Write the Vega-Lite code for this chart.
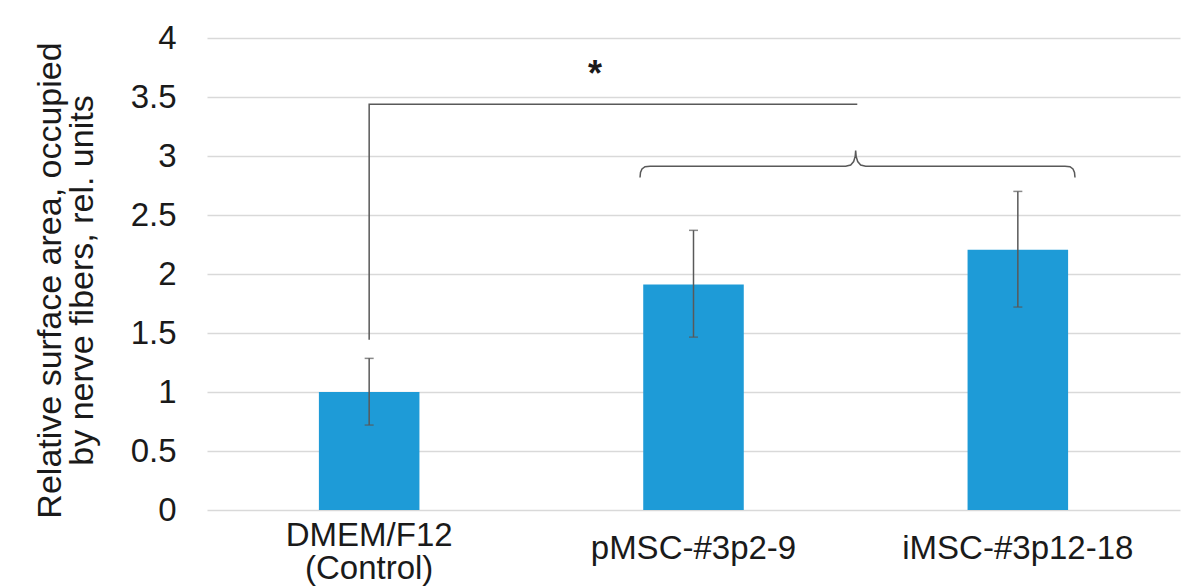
{
  "$schema": "https://vega.github.io/schema/vega-lite/v6.json",
  "autosize": "none",
  "width": 973,
  "height": 472,
  "padding": {"left": 207, "top": 38, "right": 16, "bottom": 77},
  "background": "white",
  "config": {
    "view": {"stroke": null},
    "font": "Liberation Sans",
    "axis": {"labelFont": "Liberation Sans", "titleFont": "Liberation Sans", "labelColor": "#1a1a1a", "titleColor": "#1a1a1a", "titleFontWeight": "normal"}
  },
  "datasets": {
    "bars": [
      {"group": "DMEM/F12\n(Control)", "mean": 1.0, "lo": 0.72, "hi": 1.285},
      {"group": "pMSC-#3p2-9", "mean": 1.91, "lo": 1.465, "hi": 2.37},
      {"group": "iMSC-#3p12-18", "mean": 2.205, "lo": 1.72, "hi": 2.70}
    ],
    "bracket": [
      {"i": 0, "u": 0.5, "v": 1.442},
      {"i": 1, "u": 0.5, "v": 3.439},
      {"i": 2, "u": 2.005, "v": 3.439}
    ],
    "brace": [
      {"i": 0, "u": 1.3351, "v": 2.818},
      {"i": 1, "u": 1.3366, "v": 2.860},
      {"i": 2, "u": 1.3412, "v": 2.890},
      {"i": 3, "u": 1.3505, "v": 2.909},
      {"i": 4, "u": 1.3659, "v": 2.913},
      {"i": 5, "u": 1.9692, "v": 2.913},
      {"i": 6, "u": 1.9846, "v": 2.924},
      {"i": 7, "u": 1.9938, "v": 2.953},
      {"i": 8, "u": 1.9985, "v": 2.996},
      {"i": 9, "u": 2.0, "v": 3.047},
      {"i": 10, "u": 2.0015, "v": 2.996},
      {"i": 11, "u": 2.0062, "v": 2.953},
      {"i": 12, "u": 2.0154, "v": 2.924},
      {"i": 13, "u": 2.0308, "v": 2.913},
      {"i": 14, "u": 2.6454, "v": 2.913},
      {"i": 15, "u": 2.6608, "v": 2.909},
      {"i": 16, "u": 2.6700, "v": 2.890},
      {"i": 17, "u": 2.6747, "v": 2.860},
      {"i": 18, "u": 2.6762, "v": 2.818}
    ],
    "star": [
      {"u": 1.196, "v": 3.595, "t": "*"}
    ]
  },
  "resolve": {"scale": {"x": "independent"}, "axis": {"x": "independent"}},
  "layer": [
    {
      "data": {"name": "bars"},
      "mark": {"type": "bar", "color": "#1E9BD7"},
      "encoding": {
        "x": {
          "field": "group", "type": "nominal", "sort": null,
          "scale": {"paddingInner": 0.69, "paddingOuter": 0.345},
          "axis": {
            "title": null, "ticks": false, "domain": false, "grid": false,
            "labelAngle": 0, "labelFontSize": 33, "labelLimit": 0,
            "labelPadding": {"condition": {"test": "datum.value == 'pMSC-#3p2-9' || datum.value == 'iMSC-#3p12-18'", "value": 48}, "value": 35},
            "labelBaseline": "alphabetic", "labelLineHeight": 33,
            "labelExpr": "split(datum.label, '\\n')"
          }
        },
        "y": {
          "field": "mean", "type": "quantitative",
          "scale": {"domain": [0, 4], "nice": false},
          "axis": {
            "values": [0, 0.5, 1, 1.5, 2, 2.5, 3, 3.5, 4],
            "format": "~g",
            "ticks": false, "domain": false,
            "gridColor": "#d9d9d9", "gridWidth": 1.3,
            "labelFontSize": 33, "labelPadding": 31,
            "title": ["Relative surface area, occupied", "by nerve fibers, rel. units"],
            "titleFontSize": 34, "titleLineHeight": 32,
            "titleAngle": -90, "titleAlign": "center", "titleBaseline": "alphabetic",
            "titleX": -147, "titleY": 242
          }
        }
      }
    },
    {
      "data": {"name": "bars"},
      "mark": {"type": "rule", "color": "#595959", "strokeWidth": 1.5},
      "encoding": {
        "x": {"field": "group", "type": "nominal", "sort": null, "scale": {"paddingInner": 0.69, "paddingOuter": 0.345}, "axis": null},
        "y": {"field": "lo", "type": "quantitative"},
        "y2": {"field": "hi"}
      }
    },
    {
      "data": {"name": "bars"},
      "mark": {"type": "tick", "color": "#595959", "thickness": 1.5, "size": 9},
      "encoding": {
        "x": {"field": "group", "type": "nominal", "sort": null, "scale": {"paddingInner": 0.69, "paddingOuter": 0.345}, "axis": null},
        "y": {"field": "lo", "type": "quantitative"}
      }
    },
    {
      "data": {"name": "bars"},
      "mark": {"type": "tick", "color": "#595959", "thickness": 1.5, "size": 9},
      "encoding": {
        "x": {"field": "group", "type": "nominal", "sort": null, "scale": {"paddingInner": 0.69, "paddingOuter": 0.345}, "axis": null},
        "y": {"field": "hi", "type": "quantitative"}
      }
    },
    {
      "data": {"name": "bracket"},
      "mark": {"type": "line", "color": "#595959", "strokeWidth": 1.5},
      "encoding": {
        "x": {"field": "u", "type": "quantitative", "scale": {"domain": [0, 3], "nice": false, "zero": false}, "axis": null},
        "y": {"field": "v", "type": "quantitative"},
        "order": {"field": "i"}
      }
    },
    {
      "data": {"name": "brace"},
      "mark": {"type": "line", "color": "#595959", "strokeWidth": 1.5},
      "encoding": {
        "x": {"field": "u", "type": "quantitative", "scale": {"domain": [0, 3], "nice": false, "zero": false}, "axis": null},
        "y": {"field": "v", "type": "quantitative"},
        "order": {"field": "i"}
      }
    },
    {
      "data": {"name": "star"},
      "mark": {"type": "text", "font": "Liberation Sans", "fontSize": 36, "fontWeight": "bold", "color": "#1a1a1a", "baseline": "alphabetic", "align": "center"},
      "encoding": {
        "x": {"field": "u", "type": "quantitative", "scale": {"domain": [0, 3], "nice": false, "zero": false}, "axis": null},
        "y": {"field": "v", "type": "quantitative"},
        "text": {"field": "t"}
      }
    }
  ]
}
